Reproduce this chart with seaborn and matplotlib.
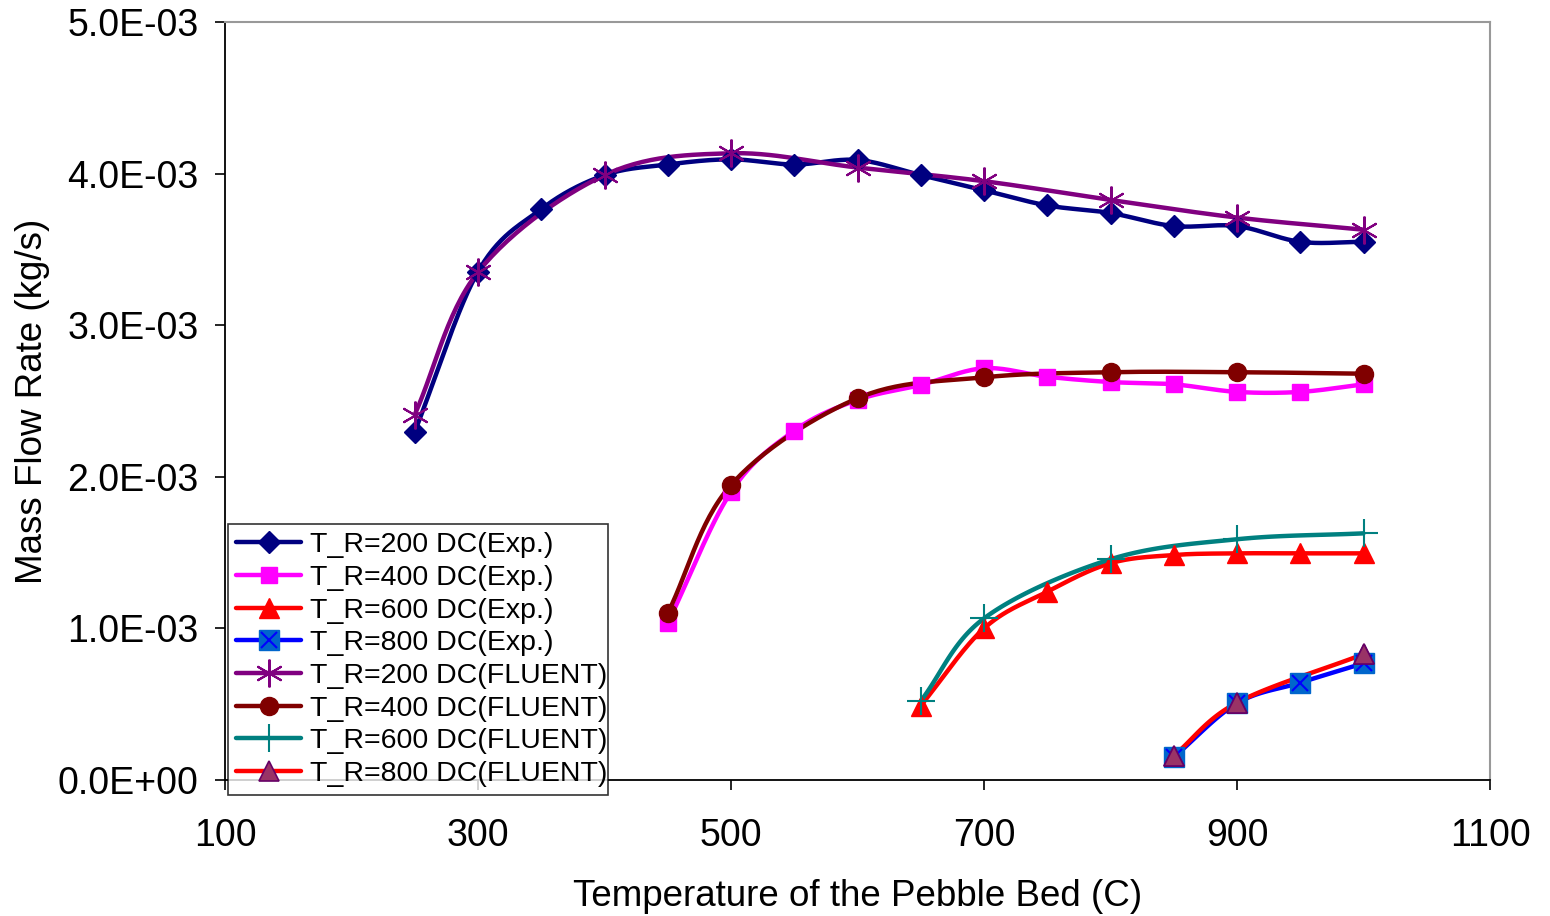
import numpy as np
import matplotlib
matplotlib.use("Agg")
import matplotlib.pyplot as plt
import seaborn as sns
from matplotlib.lines import Line2D
from matplotlib.ticker import FuncFormatter
from matplotlib.legend_handler import HandlerTuple

# ---------------- data ----------------
x_exp200 = [250, 300, 350, 400, 450, 500, 550, 600, 650, 700, 750, 800, 850, 900, 950, 1000]
y_exp200 = [2.297, 3.353, 3.766, 3.99, 4.06, 4.094, 4.06, 4.09, 3.99, 3.89, 3.79, 3.74, 3.654, 3.654, 3.55, 3.55]

x_exp400 = [450, 500, 550, 600, 650, 700, 750, 800, 850, 900, 950, 1000]
y_exp400 = [1.034, 1.90, 2.304, 2.507, 2.606, 2.716, 2.66, 2.625, 2.61, 2.56, 2.56, 2.61]

x_exp600 = [650, 700, 750, 800, 850, 900, 950, 1000]
y_exp600 = [0.49, 1.0, 1.242, 1.43, 1.484, 1.495, 1.495, 1.495]

x_exp800 = [850, 900, 950, 1000]
y_exp800 = [0.15, 0.506, 0.642, 0.77]

x_fl200 = [250, 300, 400, 500, 600, 700, 800, 900, 1000]
y_fl200 = [2.41, 3.35, 3.99, 4.134, 4.04, 3.95, 3.826, 3.71, 3.63]

x_fl400 = [450, 500, 600, 700, 800, 900, 1000]
y_fl400 = [1.10, 1.946, 2.518, 2.656, 2.69, 2.69, 2.68]

x_fl600 = [650, 700, 800, 900, 1000]
y_fl600 = [0.521, 1.066, 1.456, 1.588, 1.627]

x_fl800 = [850, 900, 1000]
y_fl800 = [0.16, 0.51, 0.83]

labels = ["T_R=200 DC(Exp.)", "T_R=400 DC(Exp.)", "T_R=600 DC(Exp.)", "T_R=800 DC(Exp.)",
          "T_R=200 DC(FLUENT)", "T_R=400 DC(FLUENT)", "T_R=600 DC(FLUENT)", "T_R=800 DC(FLUENT)"]
SCALE = 1e-3

# ---------------- helpers ----------------
def smooth(xs, ys, n=30):
    """Catmull-Rom spline through points (like Excel smoothed line)."""
    P = np.column_stack([xs, ys]).astype(float)
    if len(P) < 3:
        return P[:, 0], P[:, 1]
    sx, sy = 1.265, 151.6
    Q = P * np.array([sx, sy])
    ext = np.vstack([2 * Q[0] - Q[1], Q, 2 * Q[-1] - Q[-2]])
    out = []
    t = np.linspace(0, 1, n, endpoint=False)[:, None]
    for i in range(1, len(ext) - 2):
        p0, p1, p2, p3 = ext[i - 1], ext[i], ext[i + 1], ext[i + 2]
        m1 = (p2 - p0) / 2
        m2 = (p3 - p1) / 2
        h00 = 2 * t**3 - 3 * t**2 + 1
        h10 = t**3 - 2 * t**2 + t
        h01 = -2 * t**3 + 3 * t**2
        h11 = t**3 - t**2
        out.append(h00 * p1 + h10 * m1 + h01 * p2 + h11 * m2)
    out.append(Q[-1][None, :])
    R = np.vstack(out) / np.array([sx, sy])
    return R[:, 0], R[:, 1]

sns.set_theme(style="white")
plt.rcParams['font.family'] = ['Liberation Sans', 'DejaVu Sans']
plt.rcParams['text.color'] = 'black'
plt.rcParams['axes.labelcolor'] = 'black'
plt.rcParams['xtick.color'] = 'black'
plt.rcParams['ytick.color'] = 'black'

fig = plt.figure(figsize=(15.5, 9.16), dpi=100)
ax = fig.add_axes([225 / 1550, 1 - 780 / 916, (1490 - 225) / 1550, (780 - 22) / 916])

series = [
    (x_exp200, y_exp200, dict(color="#000080", marker="D", ms=11, mfc="#000080", mec="#000080", mew=1)),
    (x_exp400, y_exp400, dict(color="#FF00FF", marker="s", ms=12, mfc="#FF00FF", mec="#FF00FF", mew=1)),
    (x_exp600, y_exp600, dict(color="#FF0000", marker="^", ms=14, mfc="#FF0000", mec="#FF0000", mew=1)),
    (x_exp800, y_exp800, dict(color="#0000FF", marker="s", ms=15, mfc="#0066CC", mec="#0066CC", mew=1)),
    (x_fl200, y_fl200, dict(color="#800080", marker=(6, 2, 0), ms=20, mfc="#800080", mec="#800080", mew=1.5)),
    (x_fl400, y_fl400, dict(color="#800000", marker="o", ms=13, mfc="#800000", mec="#800000", mew=1)),
    (x_fl600, y_fl600, dict(color="#008080", marker="+", ms=20, mfc="#008080", mec="#008080", mew=1.5)),
    (x_fl800, y_fl800, dict(color="#FF0000", marker="^", ms=14, mfc="#993366", mec="#660066", mew=1.2)),
]

handles = []
for (xs, ys, st), lab in zip(series, labels):
    xsm, ysm = smooth(xs, ys)
    sns.lineplot(x=xsm, y=ysm * SCALE, sort=False, estimator=None, ax=ax,
                 color=st["color"], linewidth=3.2, zorder=2)
    ax.plot(np.array(xs), np.array(ys) * SCALE, linestyle="none", marker=st["marker"],
            markersize=st["ms"], markerfacecolor=st["mfc"], markeredgecolor=st["mec"],
            markeredgewidth=st["mew"], zorder=3)
    handles.append(Line2D([], [], color=st["color"], linewidth=3.2, marker=st["marker"],
                          markersize=st["ms"], markerfacecolor=st["mfc"],
                          markeredgecolor=st["mec"], markeredgewidth=st["mew"]))
# X overlay for 800 Exp markers
ax.plot(np.array(x_exp800), np.array(y_exp800) * SCALE, linestyle="none", marker="x",
        markersize=12, markeredgecolor="#0000FF", markeredgewidth=1.5, zorder=3.5)
# redraw FLUENT 800 triangles on top
st = series[7][2]
ax.plot(np.array(x_fl800), np.array(y_fl800) * SCALE, linestyle="none", marker="^",
        markersize=st["ms"], markerfacecolor=st["mfc"], markeredgecolor=st["mec"],
        markeredgewidth=st["mew"], zorder=4)

ax.set_xlim(100, 1100)
ax.set_ylim(0, 5e-3)
ax.set_xticks([100, 300, 500, 700, 900, 1100])
ax.set_yticks([0, 1e-3, 2e-3, 3e-3, 4e-3, 5e-3])
ax.yaxis.set_major_formatter(FuncFormatter(lambda v, p: f"{v:.1E}"))
ax.tick_params(axis="both", direction="out", length=7, width=1.2, color="#000000",
               labelsize=27, left=True, bottom=True, labelcolor="black")
ax.tick_params(axis="y", pad=12)
ax.tick_params(axis="x", pad=20)
for s in ["left", "bottom"]:
    ax.spines[s].set_color("#000000")
    ax.spines[s].set_linewidth(1.3)
for s in ["top", "right"]:
    ax.spines[s].set_color("#999999")
    ax.spines[s].set_linewidth(1.5)
ax.grid(False)

ax.set_xlabel("Temperature of the Pebble Bed (C)", fontsize=26.5, color="black")
ax.set_ylabel("Mass Flow Rate (kg/s)", fontsize=26.5, color="black")
ax.xaxis.set_label_coords(0.5, -(879 - 780) / 758)
ax.yaxis.set_label_coords(-(225 - 50) / 1265, 0.5)

h800x = Line2D([], [], linestyle="none", marker="x", markersize=12,
               markeredgecolor="#0000FF", markeredgewidth=1.5)
handles[3] = (handles[3], h800x)

leg = ax.legend(handles, labels, loc="lower left",
                bbox_to_anchor=(3 / 1265, -15 / 758, 380 / 1265, 268 / 758),
                mode="expand", borderaxespad=0, fontsize=20.5, frameon=True, fancybox=False,
                handlelength=2.3, handletextpad=0.3, labelspacing=0.235, borderpad=0.28,
                handler_map={tuple: HandlerTuple(ndivide=1, pad=0)})
leg.get_frame().set_edgecolor("#000000")
leg.get_frame().set_linewidth(1.2)
leg.set_zorder(10)
for t in leg.get_texts():
    t.set_color("black")

fig.savefig("out.png", dpi=100, facecolor="white")
